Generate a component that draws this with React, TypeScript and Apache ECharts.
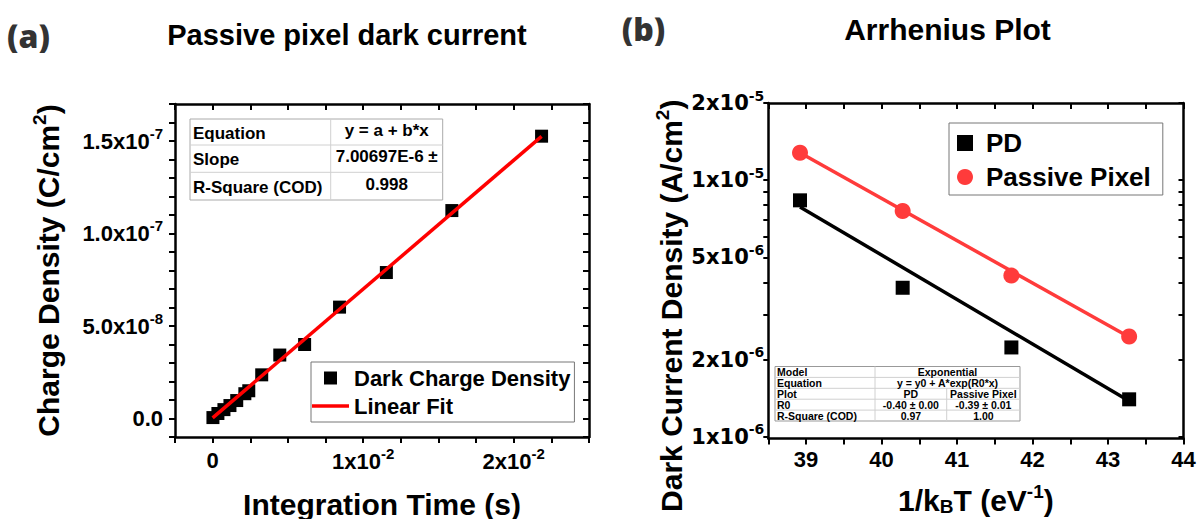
import React, { useEffect, useRef } from 'react';
import * as echarts from 'echarts';

const FONT = '"Liberation Sans", Arial, Helvetica, sans-serif';
const FONT_B = '"DejaVu Sans", "Liberation Sans", sans-serif';
const PANEL_FONT = '"Open Sans", Lato, sans-serif';

// ---------- Panel (a): passive pixel dark current ----------
const integrationTime = [0.00002, 0.00035, 0.00075, 0.00115, 0.0016, 0.00214, 0.0024, 0.00326, 0.00446, 0.00611, 0.00843, 0.01154, 0.01589, 0.02185];
const chargeDensity = [0.5e-9, 2.7e-9, 4.8e-9, 7.0e-9, 9.7e-9, 1.34e-8, 1.5e-8, 2.36e-8, 3.43e-8, 4.0e-8, 6.02e-8, 7.89e-8, 1.124e-7, 1.526e-7];
const linearFitX = [0, 0.02185];
const linearFitY = [0.3e-9, 1.525e-7];
const xLabelTicksA = [0, 0.01, 0.02];
const yLabelTicksA = [0, 5e-8, 1e-7, 1.5e-7];
const fitTableANames = ['Equation', 'Slope', 'R-Square (COD)'];
const fitTableAValues = ['y = a + b*x', '7.00697E-6 \u00b1', '0.998'];

// ---------- Panel (b): Arrhenius plot ----------
const invKT = [38.92, 40.28, 41.72, 43.28];
const pdCurrent = [8.35e-6, 3.81e-6, 2.23e-6, 1.40e-6];
const passiveCurrent = [1.28e-5, 7.59e-6, 4.25e-6, 2.46e-6];
const fitX = [38.92, 43.28];
const pdFitY = [7.87e-6, 1.38e-6];
const passiveFitY = [1.28e-5, 2.45e-6];
const xLabelTicksB = [39, 40, 41, 42, 43, 44];
const yLabelTicksB = [1e-6, 2e-6, 5e-6, 1e-5, 2e-5];
const yAllTicksB = [1e-6, 2e-6, 3e-6, 4e-6, 5e-6, 6e-6, 7e-6, 8e-6, 9e-6, 1e-5, 2e-5];
const fitTableBNames = ['Model', 'Equation', 'Plot', 'R0', 'R-Square (COD)'];
const fitTableBPD = ['Exponential', 'y = y0 + A*exp(R0*x)', 'PD', '-0.40 \u00b1 0.00', '0.97'];
const fitTableBPP = ['', '', 'Passive Pixel', '-0.39 \u00b1 0.01', '1.00'];

const zip = (a: number[], b: number[]) => a.map((x, i) => [x, b[i]]);

const tickRich = (fs: number, sfs: number, fam: string) => ({
  b: { fontSize: fs, fontWeight: 'bold', fontFamily: fam, color: '#000', lineHeight: fs + 6 },
  s: { fontSize: sfs, fontWeight: 'bold', fontFamily: fam, color: '#000', padding: [0, 0, Math.round(fs * 0.72), 0] },
});

const sci = (v: number, digits: number) => {
  if (Math.abs(v) < 1e-20) return digits > 0 ? '{b|0.0}' : '{b|0}';
  const e = Math.floor(Math.log10(Math.abs(v)) + 1e-9);
  const m = v / Math.pow(10, e);
  return `{b|${m.toFixed(digits)}x10}{s|${e}}`;
};

const nameStyle = (extra: any = {}) => ({
  fontSize: 30,
  fontWeight: 'bold',
  fontFamily: FONT,
  color: '#000',
  rich: {
    sup: { fontSize: 19, fontWeight: 'bold', fontFamily: FONT, color: '#000', padding: [0, 0, 18, 0] },
    sub: { fontSize: 19, fontWeight: 'bold', fontFamily: FONT, color: '#000', padding: [13, 0, 0, 0] },
  },
  ...extra,
});

const frameLine = { onZero: false, lineStyle: { color: '#000', width: 2.5 } };
const tickOut = { show: true, inside: false, length: 6, lineStyle: { color: '#000', width: 2 } };
const tickIn = { show: true, inside: true, length: 6, lineStyle: { color: '#000', width: 2 } };

function buildGraphics() {
  const els: any[] = [];
  const txt = (x: number, y: number, text: string, size: number, align: string, fam = FONT, fill = '#000', weight: any = 'bold') => ({
    type: 'text',
    x,
    y,
    z: 100,
    style: {
      text,
      fontSize: size,
      fontWeight: weight,
      fontFamily: fam,
      fill,
      align,
      verticalAlign: 'middle',
      textAlign: align,
      textVerticalAlign: 'middle',
    },
  });
  const line = (x1: number, y1: number, x2: number, y2: number, stroke: string) => ({
    type: 'line',
    z: 100,
    shape: { x1, y1, x2, y2 },
    style: { stroke, lineWidth: 1 },
  });

  // headings
  els.push(txt(28.5, 35, '(a)', 32, 'center', PANEL_FONT, '#333', 800));
  els.push(txt(643.5, 28, '(b)', 32, 'center', PANEL_FONT, '#333', 800));
  els.push(txt(347, 35, 'Passive pixel dark current', 29, 'center'));
  els.push(txt(947.5, 29, 'Arrhenius Plot', 30, 'center'));

  // table (a)
  const ax = 190, ay = 119, aw = 252.7, colA = 140.7;
  const rowsA = [0, 26, 53.3, 81];
  els.push({ type: 'rect', z: 99, shape: { x: ax, y: ay, width: aw, height: rowsA[3] }, style: { fill: '#fff', stroke: '#aaa', lineWidth: 1 } });
  els.push(line(ax + colA, ay, ax + colA, ay + rowsA[3], '#d0d0d0'));
  for (let i = 1; i < 3; i++) els.push(line(ax, ay + rowsA[i], ax + aw, ay + rowsA[i], '#d0d0d0'));
  fitTableANames.forEach((t, i) => {
    const cy = ay + (rowsA[i] + rowsA[i + 1]) / 2 + 1;
    els.push(txt(ax + 3, cy, t, 17, 'left'));
    els.push(txt(ax + colA + (aw - colA) / 2, cy - 3, fitTableAValues[i], 17, 'center'));
  });

  // table (b)
  const bx = 775, by = 366.5, bw = 245, rh = 10.9, c1 = 100, c2 = 171.7;
  els.push({ type: 'rect', z: 99, shape: { x: bx, y: by, width: bw, height: rh * 5 }, style: { fill: '#fff', stroke: '#999', lineWidth: 1 } });
  for (let i = 1; i < 5; i++) els.push(line(bx, by + rh * i, bx + bw, by + rh * i, '#d0d0d0'));
  els.push(line(bx + c1, by, bx + c1, by + rh * 5, '#d0d0d0'));
  els.push(line(bx + c2, by + rh * 2, bx + c2, by + rh * 5, '#d0d0d0'));
  fitTableBNames.forEach((t, i) => {
    const cy = by + rh * i + rh / 2;
    els.push(txt(bx + 2, cy, t, 10.5, 'left'));
    if (!fitTableBPP[i]) {
      els.push(txt(bx + (c1 + bw) / 2, cy, fitTableBPD[i], 10.5, 'center'));
    } else {
      els.push(txt(bx + (c1 + c2) / 2, cy, fitTableBPD[i], 10.5, 'center'));
      els.push(txt(bx + (c2 + bw) / 2, cy, fitTableBPP[i], 10.5, 'center'));
    }
  });
  return els;
}

const squareIcon = 'path://M0,0L10,0L10,10L0,10Z';
const barIcon = 'path://M0,0L37,0L37,3.5L0,3.5Z';

const option: any = {
  animation: false,
  backgroundColor: '#fff',
  textStyle: { fontFamily: FONT },
  grid: [
    { left: 175, top: 104, width: 414, height: 333, outerBoundsMode: 'none', containLabel: false },
    { left: 768.3, top: 103, width: 415.2, height: 335.5, outerBoundsMode: 'none', containLabel: false },
  ],
  xAxis: [
    {
      gridIndex: 0, type: 'value', position: 'bottom',
      min: -0.0025, max: 0.025, interval: 0.0025,
      axisLine: frameLine, axisTick: tickOut, splitLine: { show: false },
      axisLabel: {
        margin: 9,
        formatter: (v: number) => (xLabelTicksA.some((t) => Math.abs(t - v) < 1e-9) ? sci(v, 0) : ''),
        rich: tickRich(22, 15, FONT),
      },
      name: 'Integration Time (s)', nameLocation: 'middle', nameGap: 52, nameTextStyle: nameStyle(),
    },
    {
      gridIndex: 0, type: 'value', position: 'top',
      min: -0.0025, max: 0.025, interval: 0.0025,
      axisLine: frameLine, axisTick: tickIn, axisLabel: { show: false }, splitLine: { show: false },
    },
    {
      gridIndex: 1, type: 'value', position: 'bottom',
      min: 38.5, max: 44, interval: 0.5,
      axisLine: frameLine, axisTick: tickOut, splitLine: { show: false },
      axisLabel: {
        margin: 7, showMaxLabel: true,
        formatter: (v: number) => (xLabelTicksB.some((t) => Math.abs(t - v) < 1e-6) ? `{b|${Math.round(v)}}` : ''),
        rich: tickRich(22, 15, FONT),
      },
      name: '1/k{sub|B}T (eV{sup|-1})', nameLocation: 'middle', nameGap: 43, nameTextStyle: nameStyle(),
    },
    {
      gridIndex: 1, type: 'value', position: 'top',
      min: 38.5, max: 44, interval: 0.5,
      axisLine: frameLine, axisTick: tickIn, axisLabel: { show: false }, splitLine: { show: false },
    },
  ],
  yAxis: [
    {
      gridIndex: 0, type: 'value', position: 'left',
      min: -1e-8, max: 1.7e-7, interval: 1e-8,
      axisLine: frameLine, axisTick: tickOut, splitLine: { show: false },
      axisLabel: {
        margin: 12,
        formatter: (v: number) => (yLabelTicksA.some((t) => Math.abs(t - v) < 1e-11) ? sci(v, 1) : ''),
        rich: tickRich(22, 15, FONT),
      },
      name: 'Charge Density (C/cm{sup|2})', nameLocation: 'middle', nameGap: 108, nameTextStyle: nameStyle(),
    },
    {
      gridIndex: 0, type: 'value', position: 'right',
      min: -1e-8, max: 1.7e-7, interval: 1e-8,
      axisLine: frameLine, axisTick: tickIn, axisLabel: { show: false }, splitLine: { show: false },
    },
    {
      gridIndex: 1, type: 'log', position: 'left',
      min: 0.985e-6, max: 2e-5,
      axisLine: frameLine,
      axisTick: { ...tickOut, length: 5, customValues: yAllTicksB },
      minorTick: { show: false }, splitLine: { show: false },
      axisLabel: {
        margin: 4,
        customValues: yLabelTicksB,
        formatter: (v: number) => {
          const e = Math.floor(Math.log10(v) + 1e-9);
          const m = Math.round(v / Math.pow(10, e));
          return `{b|${m}x10}{s|${e}}`;
        },
        rich: tickRich(21, 14, FONT_B),
      },
      name: 'Dark Current Density (A/cm{sup|2})', nameLocation: 'middle', nameGap: 78,
      nameTextStyle: nameStyle({ padding: [0, 70, 0, 0] }),
    },
    {
      gridIndex: 1, type: 'log', position: 'right',
      min: 0.985e-6, max: 2e-5,
      axisLine: frameLine,
      axisTick: { ...tickIn, length: 5, customValues: yAllTicksB },
      minorTick: { show: false }, axisLabel: { show: false }, splitLine: { show: false },
    },
  ],
  legend: [
    {
      data: [{ name: 'Dark Charge Density', icon: squareIcon }, { name: 'Linear Fit', icon: barIcon }],
      orient: 'vertical', left: 311, top: 362,
      itemWidth: 37, itemHeight: 13, itemGap: 6,
      padding: [5, 4, 5, 1],
      borderColor: '#777', borderWidth: 1, backgroundColor: '#fff',
      symbolKeepAspect: true, selectedMode: false,
      itemStyle: { opacity: 1 },
      textStyle: { fontFamily: FONT, fontWeight: 'bold', fontSize: 22, color: '#000' },
    },
    {
      data: [{ name: 'PD', icon: squareIcon }, { name: 'Passive Pixel', icon: 'circle' }],
      orient: 'vertical', left: 949, top: 123,
      itemWidth: 20, itemHeight: 16, itemGap: 8,
      padding: [7, 12, 5, 8],
      borderColor: '#777', borderWidth: 1, backgroundColor: '#fff',
      symbolKeepAspect: true, selectedMode: false,
      itemStyle: { opacity: 1 },
      textStyle: { fontFamily: FONT, fontWeight: 'bold', fontSize: 26, color: '#000', padding: [0, 0, 0, 6] },
    },
  ],
  graphic: buildGraphics(),
  series: [
    {
      type: 'scatter', name: 'Dark Charge Density', xAxisIndex: 0, yAxisIndex: 0,
      data: zip(integrationTime, chargeDensity), symbol: 'rect', symbolSize: 13,
      itemStyle: { color: '#000', opacity: 1 }, z: 2,
    },
    {
      type: 'line', name: 'Linear Fit', xAxisIndex: 0, yAxisIndex: 0,
      data: zip(linearFitX, linearFitY), symbol: 'none', showSymbol: false,
      lineStyle: { color: '#ff0000', width: 3.5 }, itemStyle: { color: '#ff0000' }, z: 3,
    },
    {
      type: 'line', name: 'PD fit', xAxisIndex: 2, yAxisIndex: 2,
      data: zip(fitX, pdFitY), symbol: 'none',
      lineStyle: { color: '#000', width: 3.5 }, z: 2,
    },
    {
      type: 'line', name: 'Passive Pixel fit', xAxisIndex: 2, yAxisIndex: 2,
      data: zip(fitX, passiveFitY), symbol: 'none',
      lineStyle: { color: '#ff3b3b', width: 3.5 }, z: 2,
    },
    {
      type: 'scatter', name: 'PD', xAxisIndex: 2, yAxisIndex: 2,
      data: zip(invKT, pdCurrent), symbol: 'rect', symbolSize: 14,
      itemStyle: { color: '#000', opacity: 1 }, z: 3,
    },
    {
      type: 'scatter', name: 'Passive Pixel', xAxisIndex: 2, yAxisIndex: 2,
      data: zip(invKT, passiveCurrent), symbol: 'circle', symbolSize: 16,
      itemStyle: { color: '#ff3b3b', opacity: 1 }, z: 3,
    },
  ],
};

export default function App() {
  const ref = useRef<HTMLDivElement>(null);
  useEffect(() => {
    if (!ref.current) return;
    const chart = echarts.init(ref.current, null, { renderer: 'svg' });
    chart.setOption(option);
    return () => chart.dispose();
  }, []);
  return (
    <div
      ref={ref}
      style={{ position: 'absolute', left: 0, top: 0, width: 1197, height: 519, background: '#fff' }}
    />
  );
}
